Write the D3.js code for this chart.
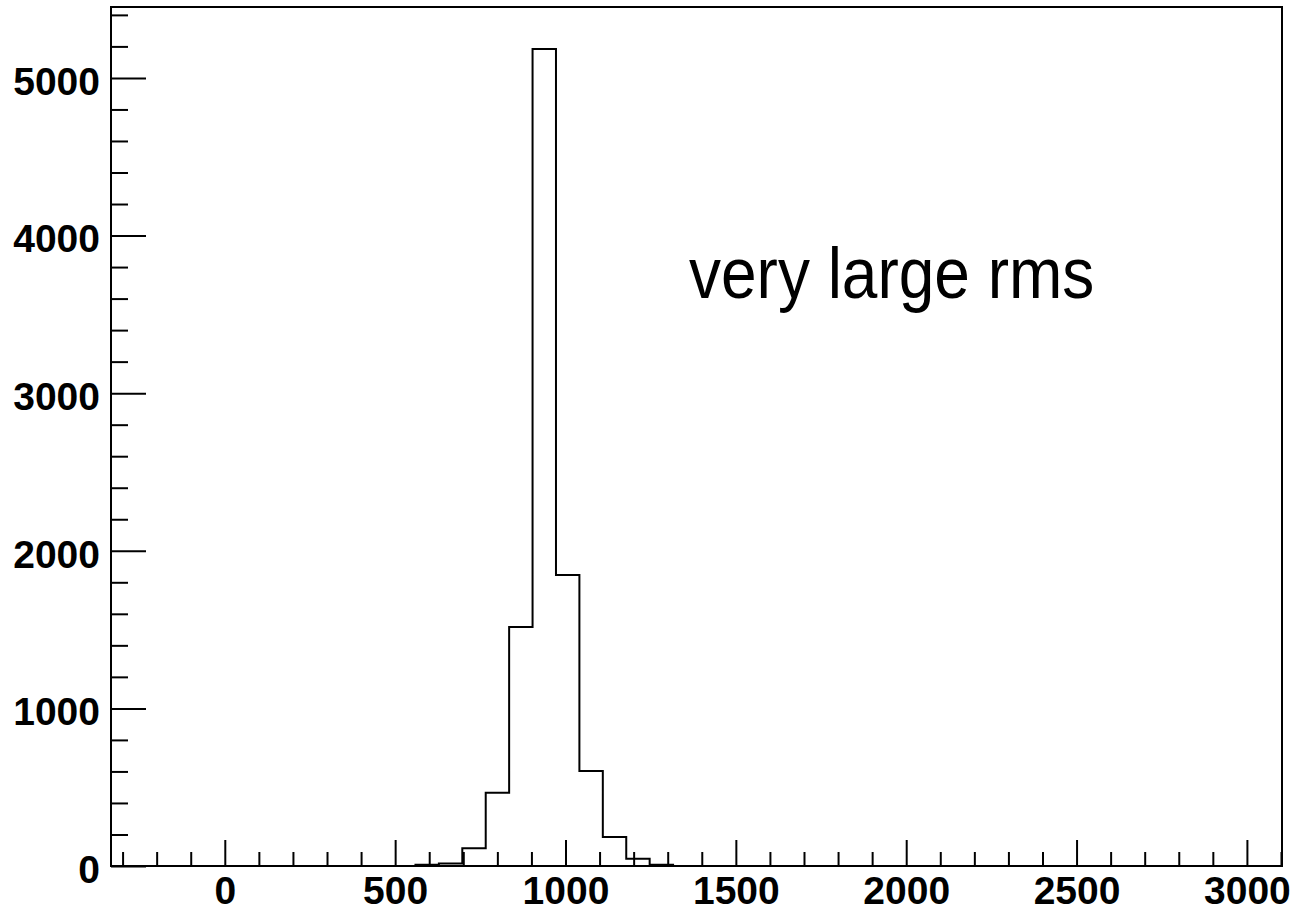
<!DOCTYPE html>
<html>
<head>
<meta charset="utf-8">
<script src="https://cdn.jsdelivr.net/npm/d3@7"></script>
<style>
body { margin: 0; background: #fff; }
.tick text { font-family: "Liberation Sans", Arial, sans-serif; font-weight: bold; font-size: 39px; fill: #000; }
.domain { display: none; }
.tick line { stroke: #000; stroke-width: 2; }
</style>
</head>
<body>
<svg class="scene"></svg>
<script>

//
// data
//

var binLow = -334;
var binHigh = 3103;
var binCount = 50;
var counts = [
    0, 0, 0, 0, 0, 0, 0, 0, 0, 0,
    0, 0, 0, 8, 16, 112, 465, 1517, 5184, 1847,
    603, 184, 46, 8, 0, 0, 0, 0, 0, 0,
    0, 0, 0, 0, 0, 0, 0, 0, 0, 0,
    0, 0, 0, 0, 0, 0, 0, 0, 0, 0
];
var xMajor = [0, 500, 1000, 1500, 2000, 2500, 3000];
var yMajor = [0, 1000, 2000, 3000, 4000, 5000];
var yMax = 5450;
var note = "very large rms";

//
// scene
//

var width = 1295,
    height = 910;

var scene = d3.select(".scene")
    .attr("width", width)
    .attr("height", height);

var x = d3.scaleLinear().domain([binLow, binHigh]).range([111, 1282]);
var y = d3.scaleLinear().domain([0, yMax]).range([866, 7]);

//
// histogram outline
//

var step = (binHigh - binLow) / binCount;
var pts = [[binLow, 0]];
counts.forEach(function (c, i) {
    pts.push([binLow + i * step, c]);
    pts.push([binLow + (i + 1) * step, c]);
});
pts.push([binHigh, 0]);

scene.append("path")
    .attr("d", d3.line()
        .x(function (d) { return x(d[0]); })
        .y(function (d) { return y(d[1]); })(pts))
    .attr("fill", "none")
    .attr("stroke", "#000")
    .attr("stroke-width", 2);

//
// axes
//

var xMinor = d3.range(-300, 3101, 100).filter(function (v) { return v % 500 !== 0; });
var yMinor = d3.range(0, yMax, 200).filter(function (v) { return v % 1000 !== 0; });

scene.append("g")
    .attr("transform", "translate(0," + y(0) + ")")
    .call(d3.axisBottom(x).tickValues(xMinor).tickSize(-14).tickFormat(""));
scene.append("g")
    .attr("transform", "translate(0," + y(0) + ")")
    .call(d3.axisBottom(x).tickValues(xMajor).tickSize(-26).tickPadding(10).tickFormat(d3.format("d")));

scene.append("g")
    .attr("transform", "translate(" + x(binLow) + ",0)")
    .call(d3.axisLeft(y).tickValues(yMinor).tickSize(-17).tickFormat(""));
scene.append("g")
    .attr("transform", "translate(" + x(binLow) + ",0)")
    .call(d3.axisLeft(y).tickValues(yMajor).tickSize(-35).tickPadding(11).tickFormat(d3.format("d")))
    .selectAll("text").attr("dy", "0.42em");

// frame
scene.append("rect")
    .attr("x", x(binLow))
    .attr("y", y(yMax))
    .attr("width", x(binHigh) - x(binLow))
    .attr("height", y(0) - y(yMax))
    .attr("fill", "none")
    .attr("stroke", "#000")
    .attr("stroke-width", 2);

// label
scene.append("text")
    .attr("transform", "translate(689,298) scale(1,1.13)")
    .attr("font-family", "Liberation Sans, Arial, sans-serif")
    .attr("font-size", 64)
    .text(note);

</script>
</body>
</html>
